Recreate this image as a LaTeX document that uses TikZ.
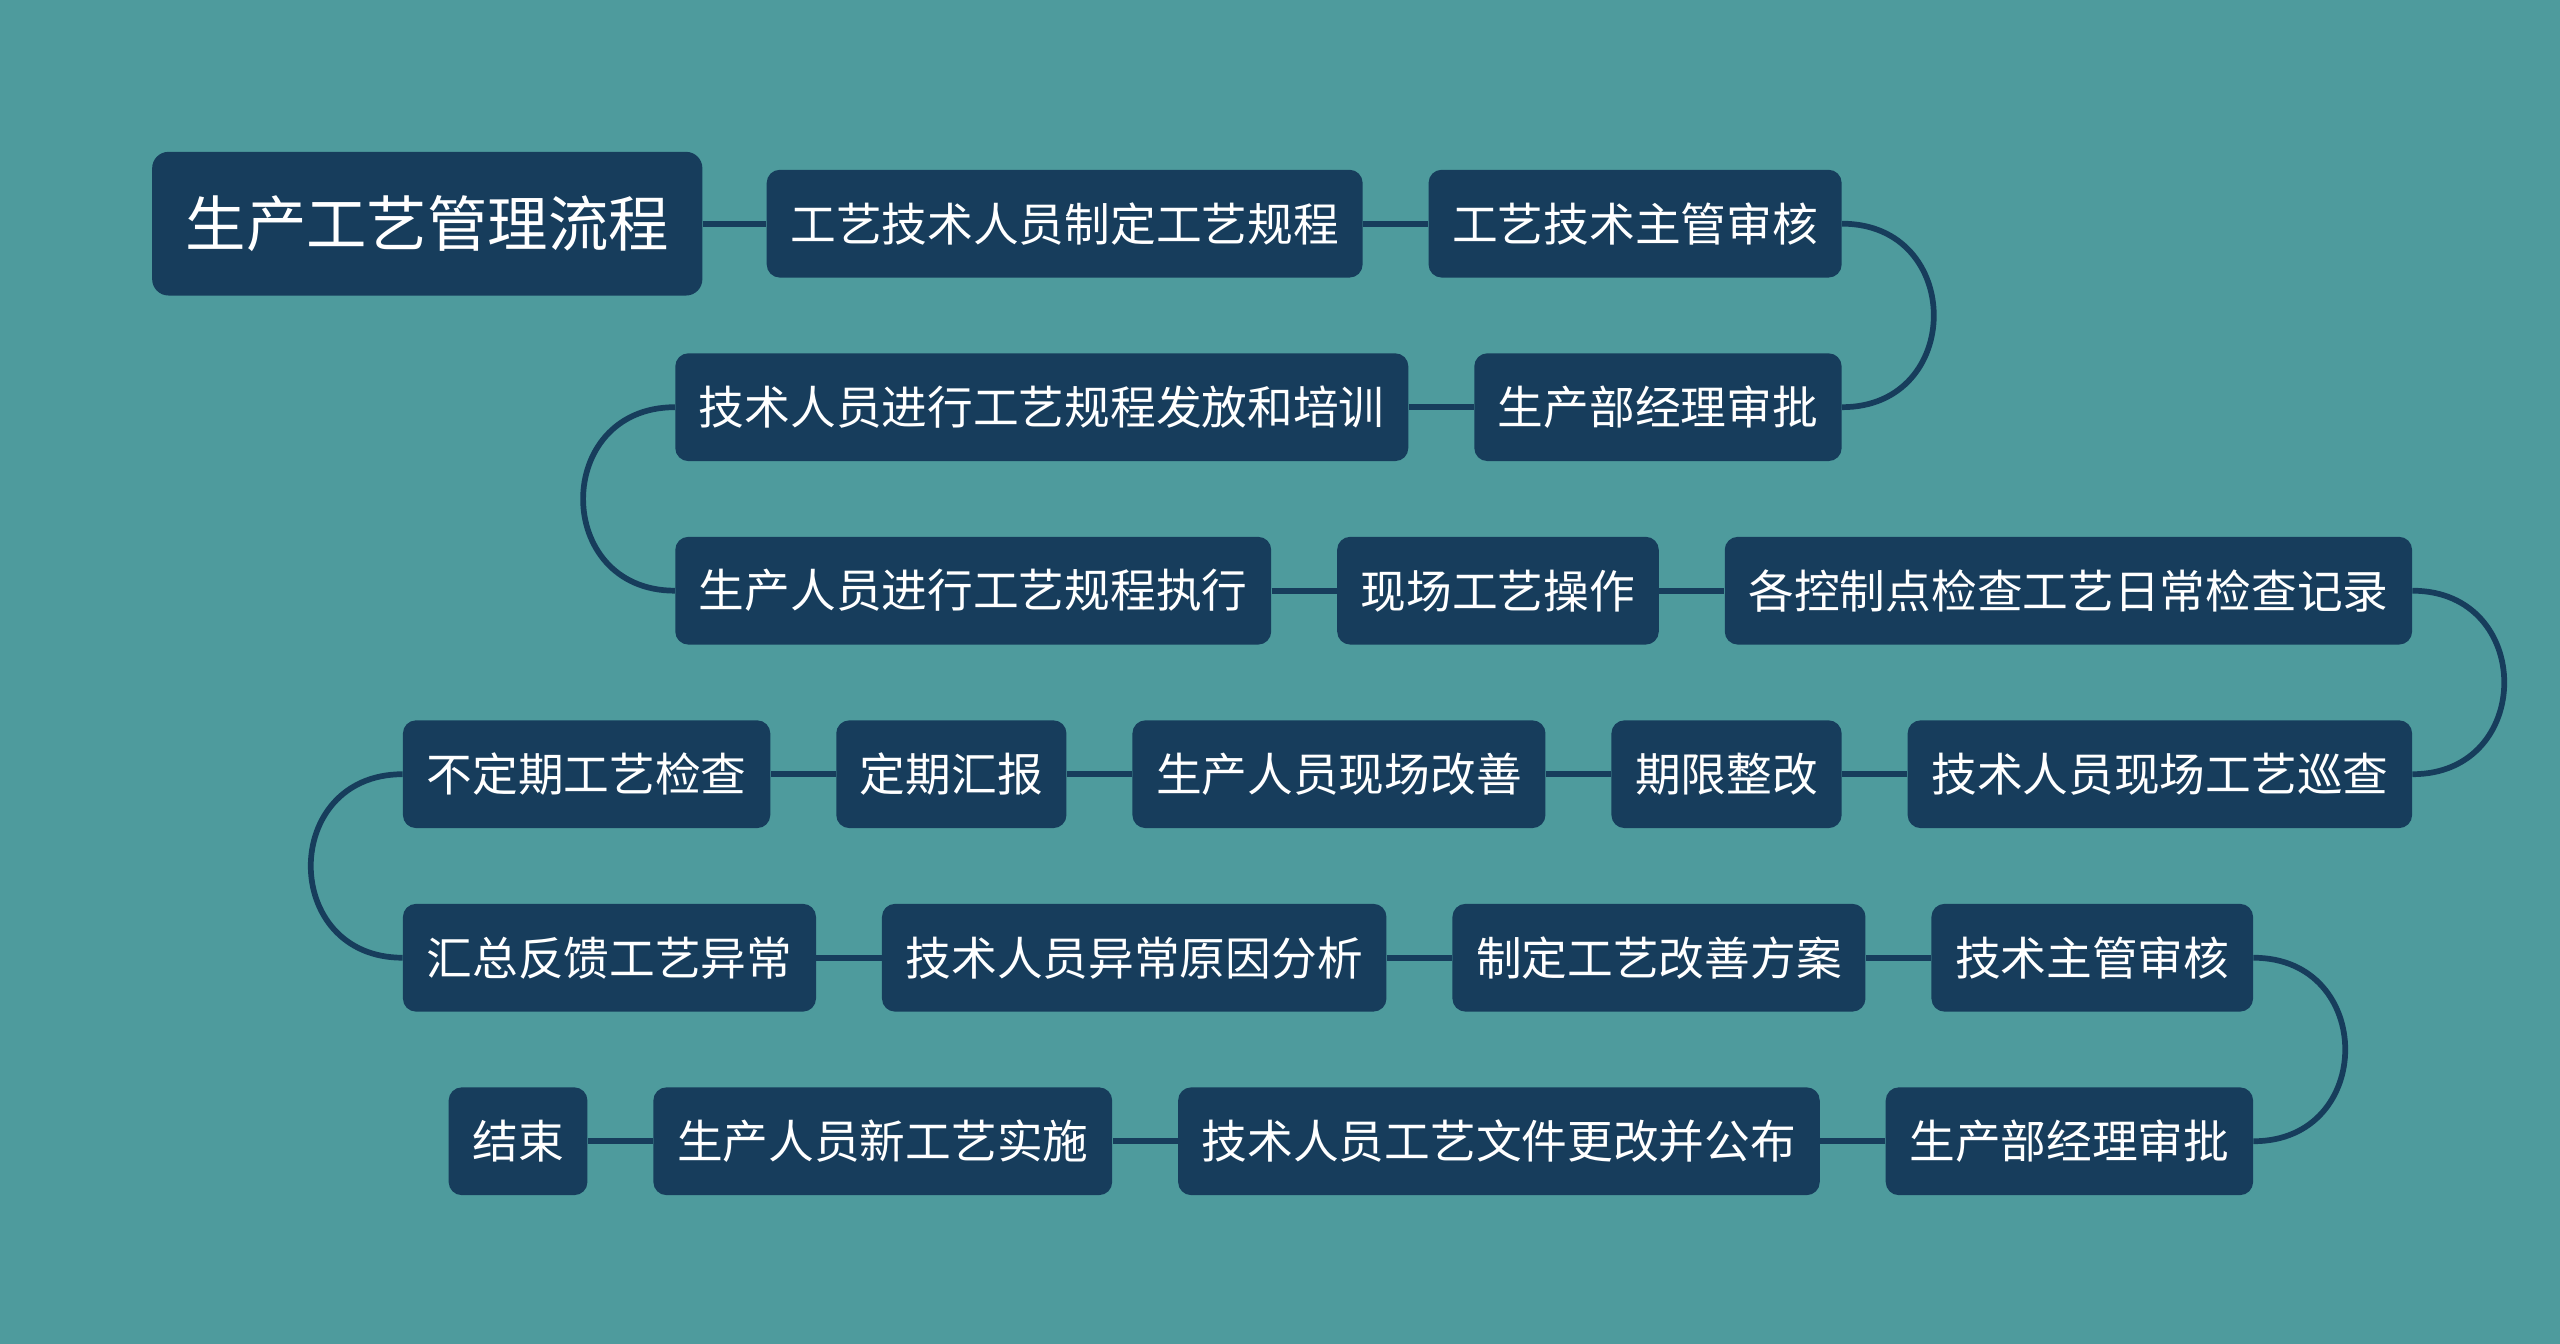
\documentclass[tikz,border=0pt]{standalone}
\usepackage{fontspec}
\setmainfont{Noto Sans CJK SC}
\usepackage{xcolor}
\usetikzlibrary{positioning}

\definecolor{bgteal}{HTML}{4E9B9D}
\definecolor{boxnavy}{HTML}{173D5C}

\begin{document}
\begin{tikzpicture}[
        x=1pt, y=1pt,
        node distance=46pt and 40pt,
        every node/.style={font=\fontsize{28pt}{34pt}\selectfont, text=white},
        box/.style={fill=boxnavy, rectangle, rounded corners=8pt, minimum height=66pt, inner xsep=14.5pt, align=center},
        rootbox/.style={box, rounded corners=10pt, minimum height=88pt, inner xsep=20.5pt, font=\fontsize{37pt}{44pt}\selectfont},
        link/.style={draw=boxnavy, line width=3.5pt}
    ]

    \fill[bgteal] (0,0) rectangle (1568,-823);

    % row 1
    \node[rootbox, anchor=west] (root) at (93,-137) {生产工艺管理流程};
    \node[box, right=39pt of root] (draft) {工艺技术人员制定工艺规程};
    \node[box, right=of draft] (techcheck) {工艺技术主管审核};

    % row 2
    \node[box, below left=46pt and 0pt of techcheck.south east] (mgrok) {生产部经理审批};
    \node[box, left=of mgrok] (train) {技术人员进行工艺规程发放和培训};

    % row 3
    \node[box, below right=46pt and 0pt of train.south west] (execute) {生产人员进行工艺规程执行};
    \node[box, right=of execute] (operate) {现场工艺操作};
    \node[box, right=of operate] (record) {各控制点检查工艺日常检查记录};

    % row 4
    \node[box, below left=46pt and 0pt of record.south east] (patrol) {技术人员现场工艺巡查};
    \node[box, left=of patrol] (rectify) {期限整改};
    \node[box, left=of rectify] (improve) {生产人员现场改善};
    \node[box, left=of improve] (report) {定期汇报};
    \node[box, left=of report] (spot) {不定期工艺检查};

    % row 5
    \node[box, below right=46pt and 0pt of spot.south west] (feedback) {汇总反馈工艺异常};
    \node[box, right=of feedback] (cause) {技术人员异常原因分析};
    \node[box, right=of cause] (plan) {制定工艺改善方案};
    \node[box, right=of plan] (leadcheck) {技术主管审核};

    % row 6
    \node[box, below left=46pt and 0pt of leadcheck.south east] (mgrok2) {生产部经理审批};
    \node[box, left=of mgrok2] (publish) {技术人员工艺文件更改并公布};
    \node[box, left=of publish] (newproc) {生产人员新工艺实施};
    \node[box, left=of newproc] (finish) {结束};

    \draw[link] (root) -- (draft);
    \draw[link] (draft) -- (techcheck);
    \draw[link] (techcheck.east) .. controls +(75,0) and +(75,0) .. (mgrok.east);
    \draw[link] (mgrok) -- (train);
    \draw[link] (train.west) .. controls +(-75,0) and +(-75,0) .. (execute.west);
    \draw[link] (execute) -- (operate);
    \draw[link] (operate) -- (record);
    \draw[link] (record.east) .. controls +(75,0) and +(75,0) .. (patrol.east);
    \draw[link] (patrol) -- (rectify);
    \draw[link] (rectify) -- (improve);
    \draw[link] (improve) -- (report);
    \draw[link] (report) -- (spot);
    \draw[link] (spot.west) .. controls +(-75,0) and +(-75,0) .. (feedback.west);
    \draw[link] (feedback) -- (cause);
    \draw[link] (cause) -- (plan);
    \draw[link] (plan) -- (leadcheck);
    \draw[link] (leadcheck.east) .. controls +(75,0) and +(75,0) .. (mgrok2.east);
    \draw[link] (mgrok2) -- (publish);
    \draw[link] (publish) -- (newproc);
    \draw[link] (newproc) -- (finish);

\end{tikzpicture}
\end{document}
